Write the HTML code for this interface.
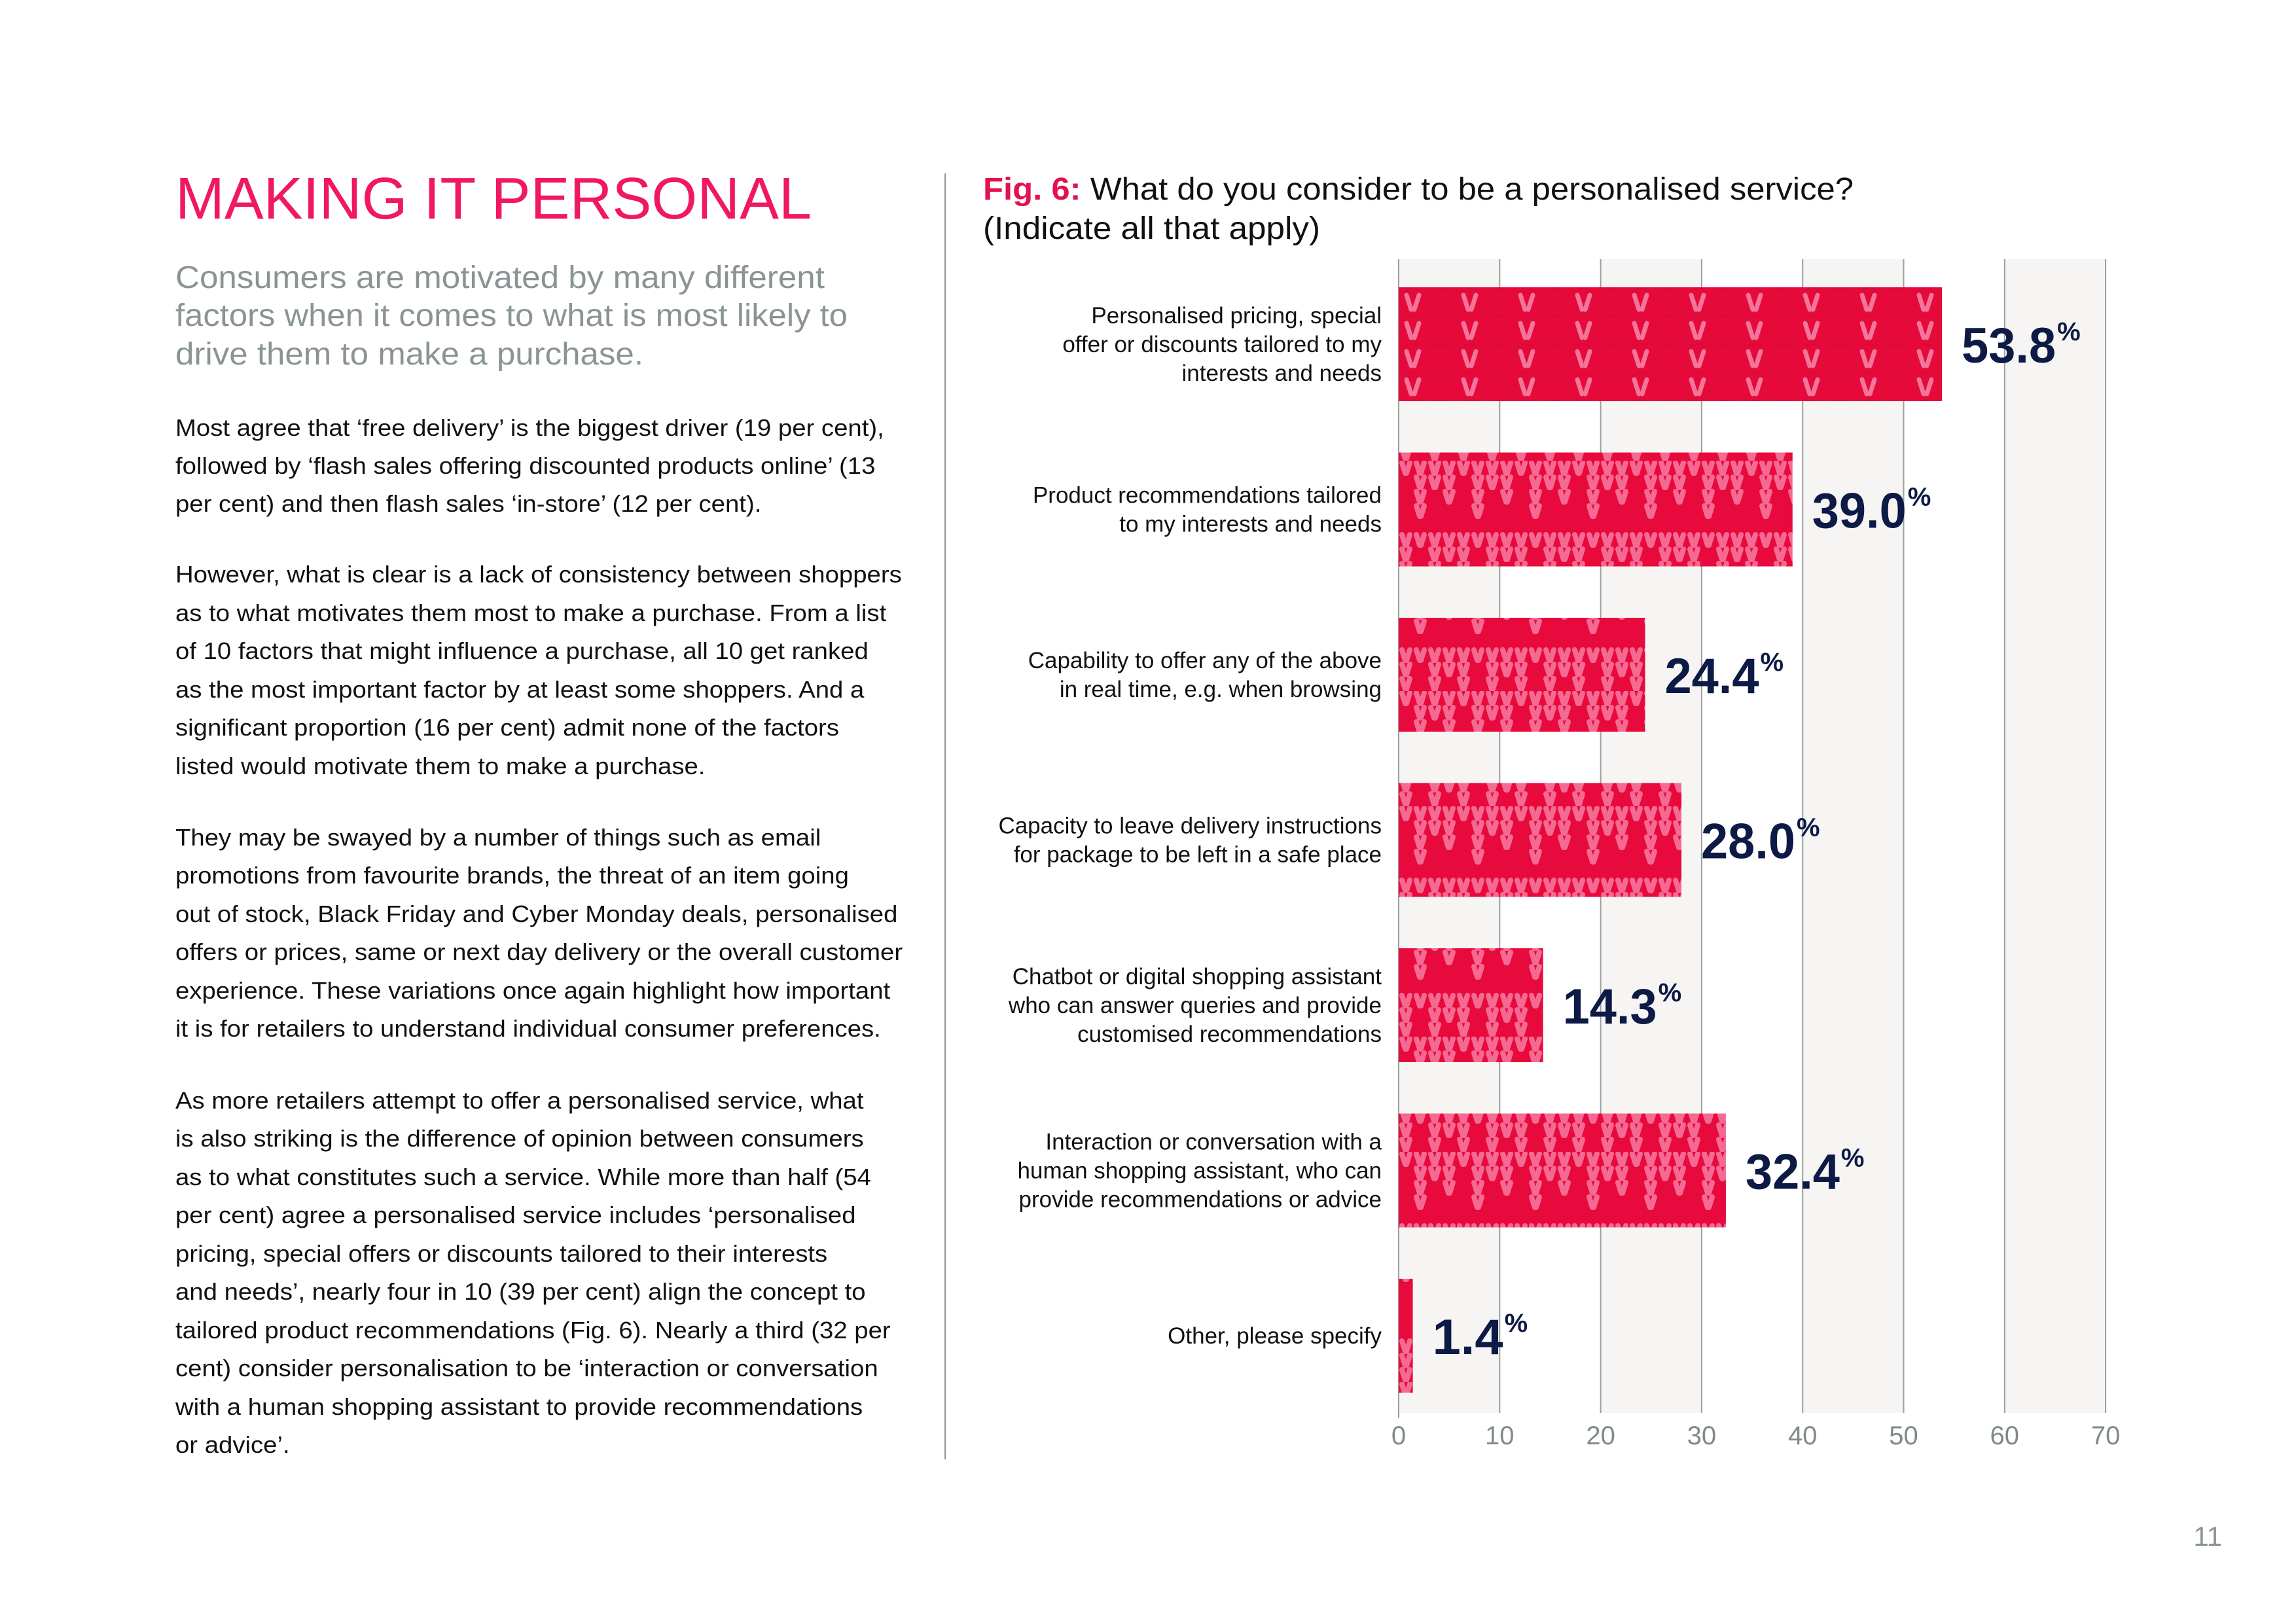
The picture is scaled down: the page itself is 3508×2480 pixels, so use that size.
<!DOCTYPE html>
<html><head><meta charset="utf-8"><style>
html,body{margin:0;padding:0;background:#fff}
svg{display:block}
text{font-family:"Liberation Sans",sans-serif}
</style></head><body>
<svg id="page" width="3508" height="2480" viewBox="0 0 3508 2480" xmlns="http://www.w3.org/2000/svg">
<defs>
 <pattern id="knitA" patternUnits="userSpaceOnUse" x="2137" y="439" width="87" height="43">
  <rect width="87" height="43" fill="#e50a3a"/>
  <path d="M12,4 L22,0 L32,4 M55,4 L65,0 L75,4" stroke="#d3063a" stroke-width="3" fill="none" opacity="0.5"/>
  <path d="M12,12 L19,34 M31,12 L24,34" stroke="#f4759a" stroke-width="7" stroke-linecap="round"/>
 </pattern>
 <pattern id="knitB" patternUnits="userSpaceOnUse" x="2137" y="0" width="88" height="176">
  <rect width="88" height="176" fill="#e80a3c"/>
  <g id="knitBrows"></g>
 </pattern>
</defs>

<text x="268" y="334" font-size="90" fill="#f0195f" textLength="972" lengthAdjust="spacingAndGlyphs">MAKING IT PERSONAL</text>
<g font-size="48" fill="#8a9494">
 <text x="268" y="440" textLength="992" lengthAdjust="spacingAndGlyphs">Consumers are motivated by many different</text>
 <text x="268" y="498" textLength="1027" lengthAdjust="spacingAndGlyphs">factors when it comes to what is most likely to</text>
 <text x="268" y="557" textLength="715" lengthAdjust="spacingAndGlyphs">drive them to make a purchase.</text>
</g>
<g font-size="36" fill="#111" transform="translate(268 0) scale(1.065 1) translate(-268 0)">
 <text x="268" y="666">Most agree that ‘free delivery’ is the biggest driver (19 per cent),</text>
 <text x="268" y="724">followed by ‘flash sales offering discounted products online’ (13</text>
 <text x="268" y="782">per cent) and then flash sales ‘in-store’ (12 per cent).</text>
 <text x="268" y="890">However, what is clear is a lack of consistency between shoppers</text>
 <text x="268" y="949">as to what motivates them most to make a purchase. From a list</text>
 <text x="268" y="1007">of 10 factors that might influence a purchase, all 10 get ranked</text>
 <text x="268" y="1066">as the most important factor by at least some shoppers. And a</text>
 <text x="268" y="1124">significant proportion (16 per cent) admit none of the factors</text>
 <text x="268" y="1183">listed would motivate them to make a purchase.</text>
 <text x="268" y="1292">They may be swayed by a number of things such as email</text>
 <text x="268" y="1350">promotions from favourite brands, the threat of an item going</text>
 <text x="268" y="1409">out of stock, Black Friday and Cyber Monday deals, personalised</text>
 <text x="268" y="1467">offers or prices, same or next day delivery or the overall customer</text>
 <text x="268" y="1526">experience. These variations once again highlight how important</text>
 <text x="268" y="1584">it is for retailers to understand individual consumer preferences.</text>
 <text x="268" y="1694">As more retailers attempt to offer a personalised service, what</text>
 <text x="268" y="1752">is also striking is the difference of opinion between consumers</text>
 <text x="268" y="1811">as to what constitutes such a service. While more than half (54</text>
 <text x="268" y="1869">per cent) agree a personalised service includes ‘personalised</text>
 <text x="268" y="1928">pricing, special offers or discounts tailored to their interests</text>
 <text x="268" y="1986">and needs’, nearly four in 10 (39 per cent) align the concept to</text>
 <text x="268" y="2045">tailored product recommendations (Fig. 6). Nearly a third (32 per</text>
 <text x="268" y="2103">cent) consider personalisation to be ‘interaction or conversation</text>
 <text x="268" y="2162">with a human shopping assistant to provide recommendations</text>
 <text x="268" y="2220">or advice’.</text>
</g>
<rect x="1443" y="265" width="2" height="1965" fill="#8d9696"/>

<text x="1502" y="305" font-size="48" fill="#111" textLength="1330" lengthAdjust="spacingAndGlyphs"><tspan fill="#e5104f" font-weight="bold">Fig. 6:</tspan> What do you consider to be a personalised service?</text>
<text x="1502" y="365" font-size="48" fill="#111" textLength="515" lengthAdjust="spacingAndGlyphs">(Indicate all that apply)</text>

<g id="chart"></g>

<text x="3395" y="2362" font-size="42" fill="#8a9494" text-anchor="end">11</text>
</svg>
<script>
const categories = [
 ["Personalised pricing, special","offer or discounts tailored to my","interests and needs"],
 ["Product recommendations tailored","to my interests and needs"],
 ["Capability to offer any of the above","in real time, e.g. when browsing"],
 ["Capacity to leave delivery instructions","for package to be left in a safe place"],
 ["Chatbot or digital shopping assistant","who can answer queries and provide","customised recommendations"],
 ["Interaction or conversation with a","human shopping assistant, who can","provide recommendations or advice"],
 ["Other, please specify"]
];
const values = [53.8, 39.0, 24.4, 28.0, 14.3, 32.4, 1.4];
const valueLabels = ["53.8","39.0","24.4","28.0","14.3","32.4","1.4"];
const xTicks = [0,10,20,30,40,50,60,70];

const NS = "http://www.w3.org/2000/svg";
const X0 = 2137, UNIT = 15.43, TOP = 396, BOTTOM = 2159, C0 = 526, STEP = 252.5, BH = 174;
function xScale(v){ return X0 + v*UNIT; }
function yCenter(i){ return C0 + i*STEP; }
function mk(tag, attrs, parent){ const e=document.createElementNS(NS,tag); for(const k in attrs) e.setAttribute(k,attrs[k]); parent.appendChild(e); return e; }

const rowsG = document.getElementById('knitBrows');
const mask = ["1111","0111","0101","0100","0000","1111","1011","1010"];
mask.forEach((r,ri)=>{ for(let c=0;c<4;c++){ if(r[c]==='1'){ const x=c*22, y=ri*22;
  mk('path',{d:`M${x+5},${y+3} L${x+10},${y+19} M${x+17},${y+3} L${x+12},${y+19}`,stroke:'#f56a92','stroke-width':8,'stroke-linecap':'round',fill:'none'},rowsG);
}}});

const chart = document.getElementById('chart');
for(let i=0;i<xTicks.length-1;i++){
 if(i%2===0){
  const s=mk('rect',{x:xScale(xTicks[i]),y:TOP,width:xScale(xTicks[i+1])-xScale(xTicks[i]),height:BOTTOM-TOP,fill:'#f6f5f3'},chart);
  
  
 }
}
xTicks.forEach(t=>{
 const l=mk('rect',{x:xScale(t)-1,y:TOP,width:2,height:BOTTOM-TOP+(t===0?8:0),fill:'#9aa0a0'},chart);
 
 
 const tl=mk('text',{x:xScale(t),y:2207,'font-size':40,fill:'#7f8a8a','text-anchor':'middle'},chart);
 tl.textContent=t;
 
 
});
values.forEach((v,i)=>{
 const cy=yCenter(i);
 const b=mk('rect',{x:X0,y:cy-BH/2,width:xScale(v)-X0,height:BH,fill:i===0?'url(#knitA)':'url(#knitB)'},chart);
 
 
 const lines=categories[i];
 const lh=44, startY=cy-(lines.length-1)*lh/2+12;
 const g=mk('text',{'font-size':35,fill:'#111','text-anchor':'end'},chart);
 
 
 lines.forEach((ln,k)=>{ const ts=mk('tspan',{x:2111,y:startY+k*lh},g); ts.textContent=ln; });
 const vt=mk('text',{x:xScale(v)+30,y:cy+28,'font-size':76,'font-weight':'bold',fill:'#0d1a45',textLength:valueLabels[i].length*36,lengthAdjust:'spacingAndGlyphs'},chart);
 vt.textContent=valueLabels[i];
 
 
 const pt=mk('text',{x:xScale(v)+30+valueLabels[i].length*36+2,y:cy-6,'font-size':40,'font-weight':'bold',fill:'#0d1a45'},chart);
 pt.textContent='%';
 
 
});
</script>
</body></html>
